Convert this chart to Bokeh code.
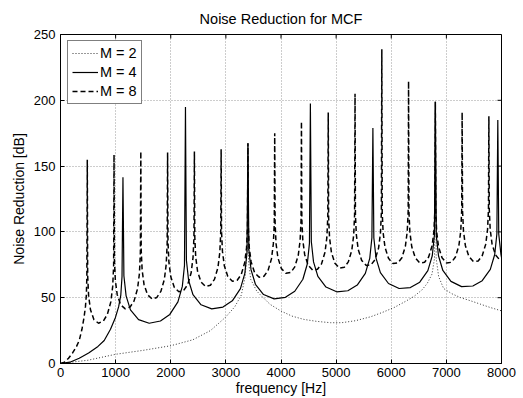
from bokeh.plotting import figure
from bokeh.models import Range1d, FixedTicker, Legend
from bokeh.embed import file_html
from bokeh.resources import INLINE

# ---------------- data ----------------
x_ticks = [0, 1000, 2000, 3000, 4000, 5000, 6000, 7000, 8000]
y_ticks = [0, 50, 100, 150, 200, 250]
series_names = ["M = 2", "M = 4", "M = 8"]

# M = 2 (dotted)
f_m2 = [0, 500, 1000, 1500, 2000, 2400, 2720, 2990, 3160, 3280, 3350, 3390, 3400,
        3410, 3450, 3560, 3630, 3800, 3993, 4200, 4416, 4650, 4900, 5100, 5350, 5626,
        5850, 6050, 6250, 6413, 6560, 6655, 6740, 6785, 6800,
        6815, 6860, 6950, 7100, 7260, 7450, 7623, 7800, 8000]
nr_m2 = [0, 2.5, 7, 10, 13.5, 18, 25, 35, 43, 52, 66, 88, 160,
         78, 64, 55, 52, 45, 40, 36, 33.5, 32, 31, 31, 32.5, 35.5,
         39, 42.5, 47, 51, 56, 61, 68, 80, 190,
         80, 66, 57, 53, 50, 47.5, 45, 42.5, 40]

# M = 4 (solid)
f_m4 = [0, 170, 340, 510, 680, 793, 907, 997, 1054, 1094, 1116, 1133,
        1150, 1190, 1269, 1416, 1609, 1813, 1983, 2130, 2210, 2249, 2267,
        2284, 2324, 2403, 2550, 2743, 2947, 3117, 3264, 3344, 3383, 3400,
        3417, 3457, 3536, 3683, 3876, 4080, 4250, 4397, 4477, 4516, 4533,
        4550, 4590, 4669, 4816, 5009, 5213, 5383, 5530, 5610, 5649, 5667,
        5684, 5724, 5803, 5950, 6143, 6347, 6517, 6664, 6744, 6783, 6800,
        6817, 6857, 6936, 7083, 7276, 7480, 7650, 7797, 7877, 7916, 7933,
        7950, 7990, 8000]
nr_m4 = [0, 1, 4, 8, 13, 17.5, 26, 35, 43, 52, 66, 141.5,
         66.7, 51.4, 40.8, 33.3, 30.6, 32.3, 37.3, 46.8, 58.6, 74.5, 195.0,
         78.5, 63.1, 52.3, 44.6, 41.5, 42.9, 47.6, 56.9, 68.5, 84.3, 167.4,
         86.5, 71.1, 60.2, 52.4, 49.1, 50.3, 54.9, 64.0, 75.6, 91.3, 197.6,
         92.7, 77.2, 66.2, 58.1, 54.5, 55.3, 59.6, 68.5, 79.9, 95.6, 179.0,
         95.6, 80.1, 69.0, 60.8, 57.0, 57.7, 61.8, 70.6, 81.9, 97.6, 198.9,
         97.4, 81.9, 70.7, 62.4, 58.4, 58.9, 62.9, 71.5, 82.8, 98.4, 185.0,
         98.4, 82.9, 80.7]

# M = 8 (dashed)
f_m8 = [0, 73, 146, 219, 291, 340, 389, 427, 452, 469, 478, 486,
        493, 510, 544, 607, 690, 777, 850, 913, 947, 964, 971,
        978, 995, 1029, 1092, 1175, 1262, 1335, 1398, 1432, 1449, 1457,
        1464, 1481, 1515, 1578, 1661, 1748, 1821, 1884, 1918, 1935, 1943,
        1950, 1967, 2001, 2064, 2147, 2234, 2307, 2370, 2404, 2421, 2429,
        2436, 2453, 2487, 2550, 2633, 2720, 2793, 2856, 2890, 2907, 2914,
        2921, 2938, 2972, 3035, 3118, 3205, 3278, 3341, 3375, 3392, 3400,
        3407, 3424, 3458, 3521, 3604, 3691, 3764, 3827, 3861, 3878, 3886,
        3893, 3910, 3944, 4007, 4090, 4177, 4250, 4313, 4347, 4364, 4371,
        4378, 4395, 4429, 4492, 4575, 4662, 4735, 4798, 4832, 4849, 4857,
        4864, 4881, 4915, 4978, 5061, 5148, 5221, 5284, 5318, 5335, 5343,
        5350, 5367, 5401, 5464, 5547, 5634, 5707, 5770, 5804, 5821, 5829,
        5836, 5853, 5887, 5950, 6033, 6120, 6193, 6256, 6290, 6307, 6314,
        6321, 6338, 6372, 6435, 6518, 6605, 6678, 6741, 6775, 6792, 6800,
        6807, 6824, 6858, 6921, 7004, 7091, 7164, 7227, 7261, 7278, 7286,
        7293, 7310, 7344, 7407, 7490, 7577, 7650, 7713, 7747, 7764, 7771,
        7778, 7795, 7829, 7892, 7975, 8000]
nr_m8 = [0, 1, 4, 8, 13, 17.5, 26, 35, 43, 52, 66, 154.8,
         66.7, 51.4, 40.8, 33.3, 30.6, 32.3, 37.3, 46.8, 58.6, 74.5, 158.6,
         78.5, 63.1, 52.3, 44.6, 41.5, 42.9, 47.6, 56.9, 68.5, 84.3, 161.1,
         86.4, 71.0, 60.1, 52.3, 49.0, 50.2, 54.8, 63.9, 75.5, 91.2, 160.3,
         92.3, 76.8, 65.9, 57.9, 54.5, 55.5, 59.9, 68.9, 80.4, 96.1, 161.0,
         96.3, 80.8, 69.9, 61.9, 58.5, 59.5, 63.9, 72.9, 84.4, 100.1, 162.8,
         100.7, 85.2, 74.2, 66.1, 62.5, 63.3, 67.6, 76.5, 87.9, 103.6, 167.4,
         103.7, 88.2, 77.2, 69.1, 65.5, 66.3, 70.6, 79.5, 90.9, 106.6, 175.0,
         106.8, 91.3, 80.3, 72.1, 68.5, 69.2, 73.4, 82.2, 93.6, 109.3, 183.8,
         109.5, 94.0, 82.9, 74.7, 70.9, 71.6, 75.7, 84.5, 95.8, 111.5, 190.8,
         111.0, 95.5, 84.4, 76.2, 72.4, 73.1, 77.2, 86.0, 97.3, 113.0, 205.0,
         113.2, 97.7, 86.6, 78.3, 74.4, 75.0, 79.0, 87.7, 99.0, 114.7, 238.7,
         114.9, 99.4, 88.2, 79.9, 75.9, 76.4, 80.4, 89.0, 100.3, 115.9, 214.5,
         115.4, 99.9, 88.7, 80.4, 76.4, 76.9, 80.9, 89.5, 100.8, 116.4, 198.9,
         115.4, 99.9, 88.7, 80.4, 76.4, 76.9, 80.9, 89.5, 100.8, 116.4, 190.8,
         116.4, 100.9, 89.7, 81.4, 77.4, 77.9, 81.9, 90.5, 101.8, 117.4, 187.8,
         117.4, 101.9, 90.7, 82.4, 78.4, 78.1]

FONT = "Liberation Sans"

p = figure(width=523, height=398,
           x_range=Range1d(0, 8000), y_range=Range1d(0, 250),
           output_backend="svg", toolbar_location=None,
           title="Noise Reduction for MCF",
           min_border_left=60, min_border_right=22,
           min_border_top=32, min_border_bottom=35,
           background_fill_color="white", border_fill_color="white")

p.title.align = "center"
p.title.text_font = FONT
p.title.text_font_size = "14.5px"
p.title.text_font_style = "normal"
p.title.text_color = "black"
p.title.standoff = 16

p.outline_line_color = "black"
p.outline_line_width = 1
p.outline_line_alpha = 1

p.xaxis.ticker = FixedTicker(ticks=x_ticks)
p.yaxis.ticker = FixedTicker(ticks=y_ticks)
p.xaxis.axis_label = "frequency [Hz]"
p.yaxis.axis_label = "Noise Reduction [dB]"

for ax in [p.xaxis[0], p.yaxis[0]]:
    ax.major_tick_in = 4
    ax.major_tick_out = 0
    ax.minor_tick_line_color = None
    ax.axis_line_color = "black"
    ax.major_tick_line_color = "black"
    ax.major_label_text_font = FONT
    ax.major_label_text_font_size = "13px"
    ax.major_label_text_color = "black"
    ax.axis_label_text_font = FONT
    ax.axis_label_text_font_size = "14px"
    ax.axis_label_text_font_style = "normal"
    ax.axis_label_text_color = "black"
p.xaxis.major_label_standoff = 4
p.yaxis.major_label_standoff = 5
p.xaxis.axis_label_standoff = 0
p.yaxis.axis_label_standoff = 4

p.xgrid.ticker = FixedTicker(ticks=x_ticks)
p.ygrid.ticker = FixedTicker(ticks=y_ticks)
for g in [p.xgrid[0], p.ygrid[0]]:
    g.grid_line_color = "#9a9a9a"
    g.grid_line_dash = "1 2"
    g.grid_line_width = 1

# inward ticks on the top and right edges of the box (MATLAB "box on")
x_top, y_right = x_ticks[-1], y_ticks[-1]
tick_len_y = (y_ticks[-1] - y_ticks[0]) * 4.0 / 331.0
tick_len_x = (x_ticks[-1] - x_ticks[0]) * 4.0 / 441.0
p.segment(x0=x_ticks, y0=[y_right] * len(x_ticks), x1=x_ticks,
          y1=[y_right - tick_len_y] * len(x_ticks), line_color="black", line_width=1)
p.segment(x0=[x_top] * len(y_ticks), y0=y_ticks, x1=[x_top - tick_len_x] * len(y_ticks),
          y1=y_ticks, line_color="black", line_width=1)

r2 = p.line(f_m2, nr_m2, line_color="#333333", line_width=1, line_dash="1 2")
r4 = p.line(f_m4, nr_m4, line_color="black", line_width=1.2)
r8 = p.line(f_m8, nr_m8, line_color="black", line_width=1.5, line_dash="5 3")

legend = Legend(items=[(series_names[0], [r2]), (series_names[1], [r4]), (series_names[2], [r8])],
                location=(7, 259), margin=0,
                border_line_color="black", border_line_width=1,
                background_fill_color="white", background_fill_alpha=1,
                label_text_font=FONT, label_text_font_size="14.5px",
                label_text_color="black",
                glyph_width=26, glyph_height=16, label_height=16,
                label_standoff=2, padding=4, spacing=3)
p.add_layout(legend)

open("out.html", "w").write(file_html(p, INLINE))
